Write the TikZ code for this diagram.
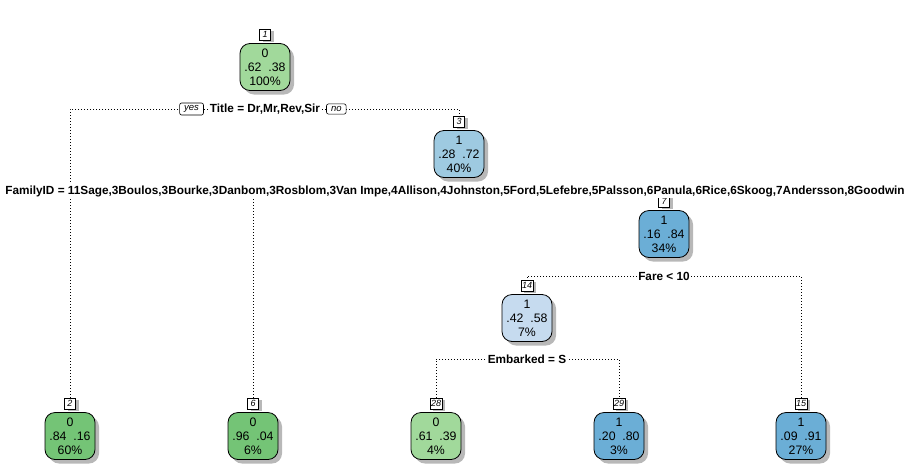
\documentclass[tikz,border=0pt]{standalone}
\usepackage{fontspec}
\setmainfont{Liberation Sans}
\usetikzlibrary{positioning}
\usetikzlibrary{shadows}
\usetikzlibrary{backgrounds}

\definecolor{greenLight}{HTML}{A1D99B}
\definecolor{greenMid}{HTML}{74C476}
\definecolor{bluePale}{HTML}{C6DBEF}
\definecolor{blueLight}{HTML}{9ECAE1}
\definecolor{blueMid}{HTML}{6BAED6}

\begin{document}
\begin{tikzpicture}[x=1pt, y=-1pt,
	leaf/.style={draw, line width=0.8pt, rounded corners=10pt, minimum width=50pt, minimum height=47pt,
		align=center, inner sep=0pt, font=\fontsize{12.3}{14}\selectfont,
		drop shadow={shadow xshift=4pt, shadow yshift=-4pt, fill=black!28, opacity=1}},
	numbox/.style={draw, fill=white, line width=0.6pt, minimum width=11pt, minimum height=10.5pt,
		inner sep=1pt, font=\itshape\fontsize{9}{9}\selectfont,
		drop shadow={shadow xshift=3pt, shadow yshift=-2pt, fill=black!28, opacity=1}},
	split/.style={fill=white, inner sep=1pt, font=\bfseries\fontsize{11.8}{12}\selectfont},
	tag/.style={draw, fill=white, rounded corners=2pt, line width=0.6pt, inner xsep=4.5pt, inner ysep=2.5pt,
		font=\itshape\fontsize{9.5}{10}\selectfont},
	branch/.style={line width=0.8pt, dash pattern=on 0.8pt off 2.2pt}]

	\useasboundingbox (0,0) rectangle (918,472);

% Define nodes.

	%root and inner nodes
	\node[leaf, fill=greenLight, label={[numbox, name=l1, label distance=3pt]above:1}] (n1) at (265, 67) {0\\.62\ \ .38\\100\%};
	\node[leaf, fill=blueLight, label={[numbox, name=l3, label distance=3pt]above:3}] (n3) at (459, 154) {1\\.28\ \ .72\\40\%};
	\node[leaf, fill=blueMid, label={[numbox, name=l7, label distance=3pt]above:7}] (n7) at (664, 234) {1\\.16\ \ .84\\34\%};
	\node[leaf, fill=bluePale, label={[numbox, name=l14, label distance=3pt]above:14}] (n14) at (527, 318) {1\\.42\ \ .58\\7\%};

	%leaves
	\node[leaf, fill=greenMid, label={[numbox, name=l2, label distance=3pt]above:2}] (n2) at (70, 436) {0\\.84\ \ .16\\60\%};
	\node[leaf, fill=greenMid, label={[numbox, name=l6, label distance=3pt]above:6}] (n6) at (253, 436) {0\\.96\ \ .04\\6\%};
	\node[leaf, fill=greenLight, label={[numbox, name=l28, label distance=3pt]above:28}] (n28) at (436, 436) {0\\.61\ \ .39\\4\%};
	\node[leaf, fill=blueMid, label={[numbox, name=l29, label distance=3pt]above:29}] (n29) at (619, 436) {1\\.20\ \ .80\\3\%};
	\node[leaf, fill=blueMid, label={[numbox, name=l15, label distance=3pt]above:15}] (n15) at (801, 436) {1\\.09\ \ .91\\27\%};

	%split labels
	\node[split] (s1) at (265, 109) {Title = Dr,Mr,Rev,Sir};
	\node[split] (s3) at (455, 191) {FamilyID = 11Sage,3Boulos,3Bourke,3Danbom,3Rosblom,3Van Impe,4Allison,4Johnston,5Ford,5Lefebre,5Palsson,6Panula,6Rice,6Skoog,7Andersson,8Goodwin};
	\node[split] (s7) at (664, 276) {Fare < 10};
	\node[split] (s14) at (527, 359) {Embarked = S};

	\node[tag, left=5pt of s1] (yes) {yes};
	\node[tag, right=5pt of s1] (no) {no};

% Draw branches.

	\begin{scope}[on background layer]
	\draw[branch] (s1.center) -| (l2.north);
	\draw[branch] (s1.center) -| (l3.north);
	\draw[branch] (s3.center) -| (l6.north);
	\draw[branch] (s3.center) -| (l7.north);
	\draw[branch] (s7.center) -| (l14.north);
	\draw[branch] (s7.center) -| (l15.north);
	\draw[branch] (s14.center) -| (l28.north);
	\draw[branch] (s14.center) -| (l29.north);
	\end{scope}

\end{tikzpicture}
\end{document}
